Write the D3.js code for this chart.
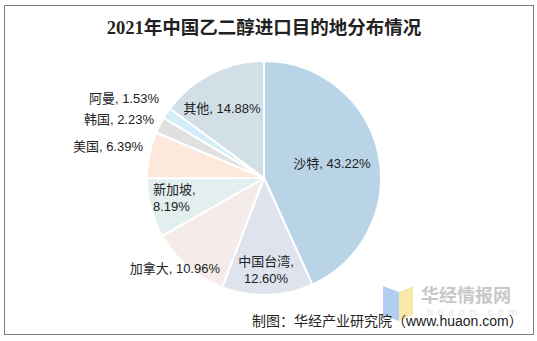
<!DOCTYPE html>
<html>
<head>
<meta charset="utf-8">
<script src="https://cdn.jsdelivr.net/npm/d3@7"></script>
<style>
  html, body { margin: 0; padding: 0; background: #fff; }
  svg { display: block; }
</style>
</head>
<body>
<svg id="chart" width="537" height="341"></svg>
<script>
// Import sources of ethylene glycol, share of total (%)
const regions = ["沙特", "中国台湾", "加拿大", "新加坡", "美国", "韩国", "阿曼", "其他"];
const shares = [43.22, 12.60, 10.96, 8.19, 6.39, 2.23, 1.53, 14.88];
const sliceColors = ["#b9d4e6", "#dfe3ee", "#f5ebe9", "#e3eeee", "#fde8dc", "#e0e0e0", "#d2edf9", "#d2dfe7"];

const W = 537, H = 341;
const svg = d3.select("#chart");
const font = "'Liberation Sans', Arial, 'Noto Sans CJK SC', sans-serif";

// frame
svg.append("rect").attr("x", 4.5).attr("y", 5.5).attr("width", 529).attr("height", 329)
  .attr("fill", "#fff").attr("stroke", "#7f7f7f").attr("stroke-width", 1);

// title
svg.append("text").attr("x", 264).attr("y", 34).attr("text-anchor", "middle")
  .attr("font-family", "'Liberation Serif', 'Noto Sans CJK SC', serif")
  .attr("font-weight", "bold").attr("font-size", 18.5).attr("fill", "#222")
  .text("2021年中国乙二醇进口目的地分布情况");

const cx = 264, cy = 178, R = 117;
const data = regions.map((r, i) => ({ name: r, value: shares[i], color: sliceColors[i] }));
const pie = d3.pie().value(d => d.value).sort(null);
const arc = d3.arc().innerRadius(0).outerRadius(R);
const arcs = pie(data);

const g = svg.append("g").attr("transform", `translate(${cx},${cy})`);
g.selectAll("path").data(arcs).join("path")
  .attr("d", arc).attr("fill", d => d.data.color)
  .attr("stroke", "#fff").attr("stroke-width", 2).attr("stroke-linejoin", "round");

// label placement: [dx, dy, anchor, split onto two lines]
const labelPos = {
  "沙特": [68, -15, "middle", false],
  "中国台湾": [2, 92, "middle", true],
  "加拿大": [-44, 90, "end", false],
  "新加坡": [-111, 20, "start", true],
  "美国": [-121, -32, "end", false],
  "韩国": [-110, -59, "end", false],
  "阿曼": [-105, -80, "end", false],
  "其他": [-42, -70, "middle", false]
};
const lab = svg.append("g").attr("font-family", font).attr("font-size", 13).attr("fill", "#222");
arcs.forEach(a => {
  const p = labelPos[a.data.name];
  const pct = a.data.value.toFixed(2) + "%";
  const t = lab.append("text").attr("x", cx + p[0]).attr("y", cy + p[1] + 4.5).attr("text-anchor", p[2]);
  if (p[3]) {
    t.append("tspan").attr("x", cx + p[0]).attr("dy", -8.5).text(a.data.name + ",");
    t.append("tspan").attr("x", cx + p[0]).attr("dy", 17).text(pct);
  } else {
    t.text(a.data.name + ", " + pct);
  }
});

// watermark logo
const wm = svg.append("g");
wm.append("path").attr("d", "M383,286 L399,292 L399,321 L383,315 Z").attr("fill", "#a9c8f0").attr("opacity", 0.9);
wm.append("path").attr("d", "M399,292 L413,286 L413,315 L399,321 Z").attr("fill", "#f7e6a0").attr("opacity", 0.9);
wm.append("text").attr("x", 421).attr("y", 302).attr("font-family", "'Noto Sans CJK SC', sans-serif")
  .attr("font-weight", "bold").attr("font-size", 18).attr("fill", "#c8c8c8").text("华经情报网");
wm.append("text").attr("x", 427).attr("y", 316).attr("font-family", font)
  .attr("font-size", 11).attr("fill", "#e6e6e6").attr("letter-spacing", 4.5).text("huaon.com");

// source note
svg.append("text").attr("x", 252).attr("y", 326).attr("font-family", font)
  .attr("font-size", 14).attr("fill", "#222").text("制图：华经产业研究院（www.huaon.com）");
</script>
</body>
</html>
